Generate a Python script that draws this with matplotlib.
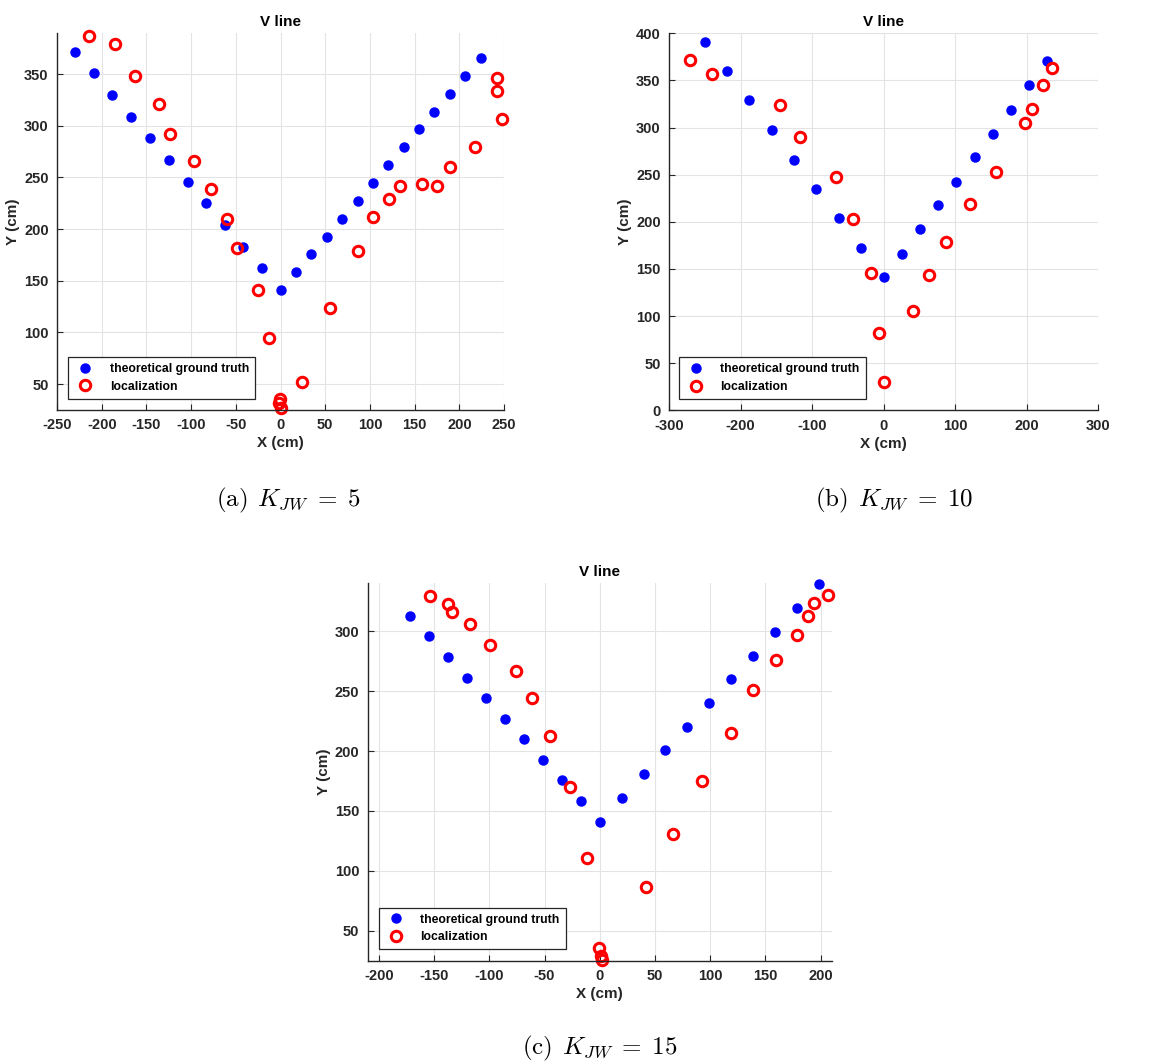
import matplotlib
matplotlib.use('Agg')
import matplotlib.pyplot as plt

plt.rcParams['font.family'] = ['Liberation Sans', 'DejaVu Sans']
plt.rcParams['mathtext.fontset'] = 'cm'
plt.rcParams['axes.unicode_minus'] = False

# K_JW = 5
gt5_x = [-230, -209, -188, -167, -146, -125, -104, -83.5, -62.6, -41.7, -20.9, 0,
         17.1, 34.6, 51.8, 68.9, 86.1, 103.2, 120.7, 137.9, 155, 172.1, 189.6, 206.8, 224.3]
gt5_y = [371.3, 350.6, 329.4, 308.4, 287.7, 266.5, 245.8, 224.8, 203.5, 182.9, 161.9, 141,
         158.1, 175.5, 192.6, 210, 227, 244.5, 261.9, 279.4, 296.5, 313.5, 330.6, 348.1, 365.5]
loc5_x = [-214.2, -184.8, -162.4, -136, -123.7, -96.9, -77.5, -60, -48.8, -25.3, -13.4,
          -0.4, -1.5, 1, 24.2, 54.8, 87.2, 103.2, 121.5, 133.8, 158, 175.5, 189.3, 217.6,
          241.8, 241.8, 247.4]
loc5_y = [386.8, 378.7, 348.4, 321, 291.9, 265.8, 238.7, 210, 181.3, 141.3, 94.5,
          35.8, 32, 26.5, 51.9, 123.2, 178.4, 211.9, 229.4, 241.9, 243.9, 241.9, 260.3, 279,
          346.1, 333.2, 306.5]

# K_JW = 10
gt10_x = [-250.1, -218.9, -187.7, -156.5, -125.3, -94.1, -62.9, -31.7, 0,
          25.2, 50.8, 75.9, 101.5, 127.2, 152.3, 177.9, 203.1, 228.7]
gt10_y = [391.1, 359.9, 328.7, 297.2, 265.6, 234.4, 203.5, 172.1, 141,
          166.1, 191.9, 217.3, 242.6, 268.4, 293.6, 319.1, 344.7, 370.6]
loc10_x = [-270.1, -239.9, -144.4, -117.4, -66.6, -42.9, -17.7, -7, 0,
           41.5, 63.8, 87.1, 121.1, 157.4, 197.5, 207.3, 223.1, 235.7]
loc10_y = [371.3, 356.4, 324.1, 290.1, 247.5, 202.5, 145.9, 82.3, 30.4,
           105.3, 143.8, 178.8, 219.1, 252.8, 305.3, 319.5, 344.7, 363.5]

# K_JW = 15
gt15_x = [-171.9, -154.7, -137.5, -120.2, -103.3, -86.1, -68.9, -51.7, -34.4, -16.9, 0,
          19.9, 39.6, 59.5, 79.2, 99.1, 119, 138.7, 158.6, 178.5, 198.5]
gt15_y = [312.5, 295.6, 278.3, 261.1, 243.9, 226.7, 209.7, 192.5, 175.6, 158.4, 141.1,
          161.1, 180.8, 200.6, 220.3, 240.3, 260, 279.7, 299.7, 319.4, 339.2]
loc15_x = [-153.5, -137.2, -134.1, -117.2, -99.4, -76.1, -61, -45.3, -26.6, -11.8,
           -0.9, 0.9, 1.8, 42.3, 66.2, 92.7, 119, 138.7, 159.2, 178.5, 188.2, 194.3, 206.6]
loc15_y = [329.2, 322.5, 315.8, 306.1, 288.6, 267.2, 244.2, 212.8, 170.1, 111,
           35.5, 28.5, 25.8, 86.8, 130.8, 174.8, 214.7, 250.6, 276.1, 296.9, 313.1, 323.3, 330.6]

panels = [
    dict(rect=[0.0486, 0.6147, 0.3811, 0.3546], gx=gt5_x, gy=gt5_y, lx=loc5_x, ly=loc5_y,
         xlim=(-250, 250), ylim=(25, 390), xticks=range(-250, 251, 50), yticks=range(50, 351, 50),
         leg=(0.025, 0.03), cap='(a)', k='5', cxy=(0.2455, 0.530)),
    dict(rect=[0.5703, 0.6144, 0.3660, 0.3543], gx=gt10_x, gy=gt10_y, lx=loc10_x, ly=loc10_y,
         xlim=(-300, 300), ylim=(0, 400), xticks=range(-300, 301, 100), yticks=range(0, 401, 50),
         leg=(0.023, 0.03), cap='(b)', k='10', cxy=(0.762, 0.530)),
    dict(rect=[0.3135, 0.0971, 0.3956, 0.3547], gx=gt15_x, gy=gt15_y, lx=loc15_x, ly=loc15_y,
         xlim=(-210, 210), ylim=(25, 340), xticks=range(-200, 201, 50), yticks=range(50, 301, 50),
         leg=(0.024, 0.03), cap='(c)', k='15', cxy=(0.511, 0.015)),
]

fig = plt.figure(figsize=(11.73, 10.64), dpi=100)

for p in panels:
    ax = fig.add_axes(p['rect'])
    ax.plot(p['gx'], p['gy'], 'o', color='#0000ff', markersize=6.5, linestyle='none',
            label='theoretical ground truth', clip_on=False)
    ax.plot(p['lx'], p['ly'], 'o', markerfacecolor='none', markeredgecolor='#ff0000',
            markeredgewidth=2.2, markersize=7.5, linestyle='none', label='localization',
            clip_on=False)
    ax.set_xlim(*p['xlim'])
    ax.set_ylim(*p['ylim'])
    ax.set_xticks(list(p['xticks']))
    ax.set_yticks(list(p['yticks']))
    ax.grid(True, color='#e3e3e3', linewidth=0.8)
    ax.set_axisbelow(True)
    for s in ['top', 'right']:
        ax.spines[s].set_visible(False)
    for s in ['left', 'bottom']:
        ax.spines[s].set_color('#262626')
        ax.spines[s].set_linewidth(1.0)
    ax.tick_params(direction='in', length=4, width=0.8, colors='#262626', labelsize=10.5, pad=6)
    for lbl in ax.get_xticklabels() + ax.get_yticklabels():
        lbl.set_fontweight('bold')
    ax.set_title('V line', fontsize=11, fontweight='bold', pad=5)
    ax.set_xlabel('X (cm)', fontsize=11, fontweight='bold', color='#262626', labelpad=3)
    ax.set_ylabel('Y (cm)', fontsize=11, fontweight='bold', color='#262626', labelpad=3)
    leg = ax.legend(loc='lower left', bbox_to_anchor=p['leg'], borderaxespad=0,
                    prop={'weight': 'bold', 'size': 8.8}, fancybox=False,
                    edgecolor='#262626', framealpha=1, handletextpad=1.1,
                    borderpad=0.5, labelspacing=0.45, handlelength=1.8)
    leg.get_frame().set_linewidth(0.9)
    fig.text(p['cxy'][0], p['cxy'][1],
             r'$\mathrm{' + p['cap'] + r'}\;\,K_{JW}\;=\;' + p['k'] + '$',
             ha='center', va='center', fontsize=18)

fig.savefig('out.png', dpi=100)
